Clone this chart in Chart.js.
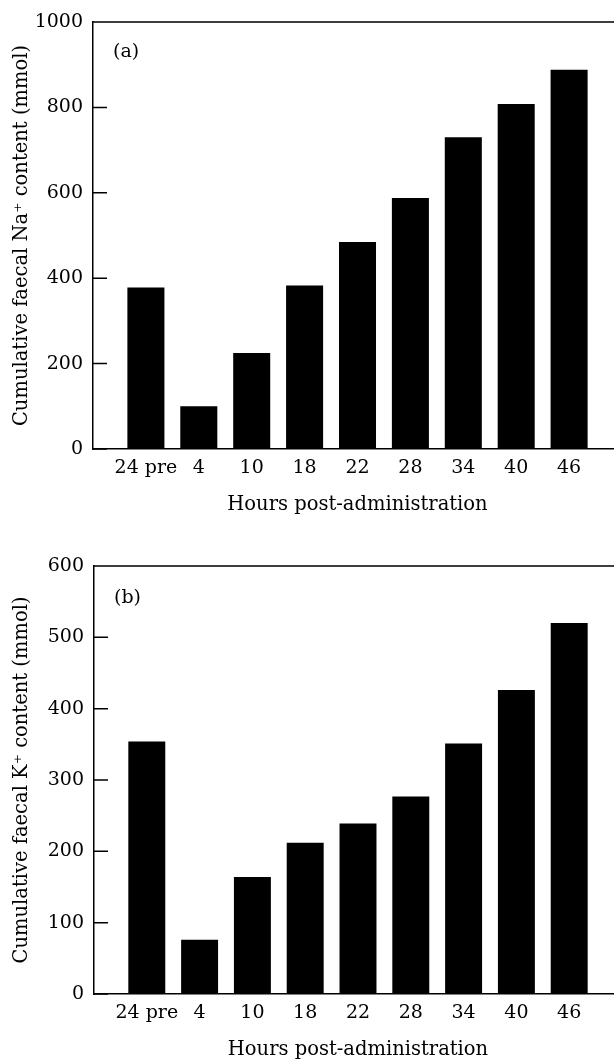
<!DOCTYPE html>
<html>
<head>
<meta charset="utf-8">
<script src="https://cdn.jsdelivr.net/npm/chart.js@4.4.1/dist/chart.umd.min.js"></script>
<style>
  html, body { margin: 0; padding: 0; background: #fff; overflow: hidden; width: 614px; height: 1061px; }
  .panel { position: absolute; left: 0; width: 630px; }
  #panelA { top: 0; height: 520px; }
  #panelB { top: 540px; height: 525px; }
</style>
</head>
<body>
<div class="panel" id="panelA"><canvas id="chartA"></canvas></div>
<div class="panel" id="panelB"><canvas id="chartB"></canvas></div>
<script>
// categories (hours post-administration)
const hours = ['24 pre', '4', '10', '18', '22', '28', '34', '40', '46'];
// cumulative faecal Na+ (mmol)
const sodium = [378, 100, 225, 383, 485, 588, 730, 808, 888];
// cumulative faecal K+ (mmol)
const potassium = [354, 76, 164, 212, 239, 277, 351, 426, 520];

const serif = "'DejaVu Serif', 'Liberation Serif', serif";
Chart.defaults.font.family = serif;
Chart.defaults.font.size = 19;
Chart.defaults.color = '#000';

// empty slots at both ends so the bars sit one step in from the axis
const xLabels = ['', ...hours, ''];
const pad = (arr) => [null, ...arr, null];

// top frame line, inward y ticks and the panel letter
const panelDecor = {
    id: 'panelDecor',
    afterDraw(chart, args, opts) {
        const { ctx, chartArea } = chart;
        const y = chart.scales.y;
        ctx.save();
        ctx.strokeStyle = '#000';
        ctx.lineWidth = 1.5;
        ctx.beginPath();
        ctx.moveTo(chartArea.left, chartArea.top);
        ctx.lineTo(chartArea.right, chartArea.top);
        y.ticks.forEach(t => {
            const py = y.getPixelForValue(t.value);
            ctx.moveTo(chartArea.left, py);
            ctx.lineTo(chartArea.left + 14, py);
        });
        ctx.stroke();
        ctx.fillStyle = '#000';
        ctx.font = '19px ' + serif;
        ctx.textBaseline = 'middle';
        ctx.fillText(opts.label, chartArea.left + 20, chartArea.top + opts.labelY);
        ctx.restore();
    }
};

function makeChart(id, values, yMax, step, yTitle, panelLabel, opts) {
    return new Chart(document.getElementById(id), {
        type: 'bar',
        data: {
            labels: xLabels,
            datasets: [{
                data: pad(values),
                backgroundColor: '#000',
                borderWidth: 0,
                barPercentage: 0.7,
                categoryPercentage: 1
            }]
        },
        options: {
            responsive: true,
            maintainAspectRatio: false,
            animation: false,
            layout: { padding: { top: opts.top, right: 7, left: 0, bottom: 0 } },
            plugins: {
                legend: { display: false },
                tooltip: { enabled: false },
                panelDecor: { label: panelLabel, labelY: opts.labelY }
            },
            scales: {
                x: {
                    offset: false,
                    grid: { display: false, drawTicks: false },
                    border: { display: true, color: '#000', width: 1.5 },
                    ticks: { padding: 8, maxRotation: 0, autoSkip: false },
                    title: {
                        display: true, text: 'Hours post-administration',
                        font: { size: 19.5 }, padding: { top: 0, bottom: 3 }
                    },
                    afterFit: s => { s.height = 71; }
                },
                y: {
                    min: 0,
                    max: yMax,
                    grid: { display: false, drawTicks: false },
                    border: { display: true, color: '#000', width: 1.5 },
                    ticks: { stepSize: step, padding: 10, callback: v => String(v) },
                    title: {
                        display: true, text: yTitle,
                        font: { size: 19.5 }, padding: { top: 10, bottom: 0 }
                    },
                    afterFit: s => { s.width = opts.axisX; }
                }
            }
        },
        plugins: [panelDecor]
    });
}

makeChart('chartA', sodium, 1000, 200, 'Cumulative faecal Na\u207A content (mmol)', '(a)',
    { top: 22, axisX: 93, labelY: 30 });
makeChart('chartB', potassium, 600, 100, 'Cumulative faecal K\u207A content (mmol)', '(b)',
    { top: 26, axisX: 94, labelY: 32 });
</script>
</body>
</html>
